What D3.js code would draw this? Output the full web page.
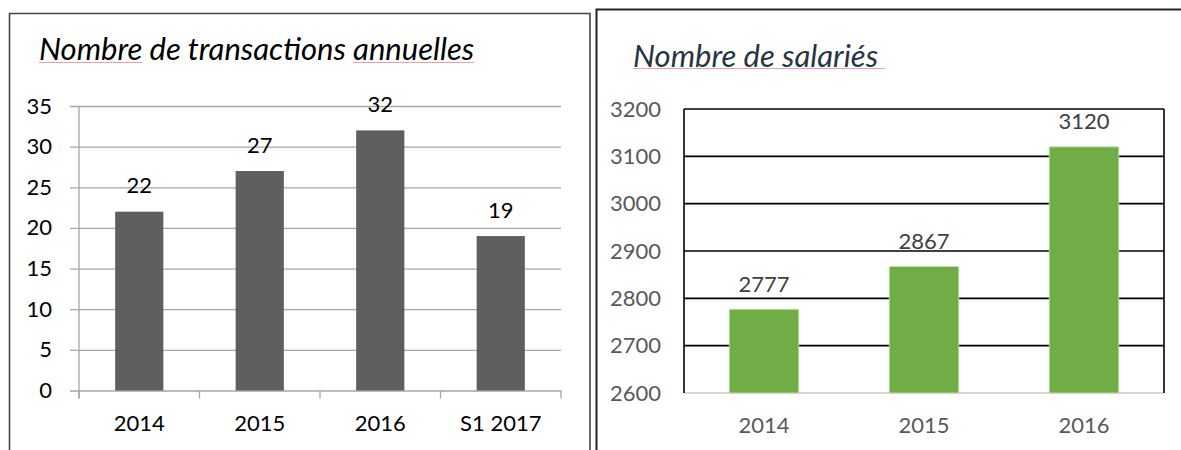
<!DOCTYPE html>
<html>
<head>
<meta charset="utf-8">
<script src="https://cdn.jsdelivr.net/npm/d3@7"></script>
<style>
  body { margin: 0; background: #fff; }
  svg { display: block; font-family: Lato, "Open Sans", sans-serif; }
</style>
</head>
<body>
<svg width="1181" height="450"></svg>
<script>
// transactions chart
const transCats = ['2014', '2015', '2016', 'S1 2017'];
const transValues = [22, 27, 32, 19];
const transTicks = [0, 5, 10, 15, 20, 25, 30, 35];
// salaries chart
const staffCats = ['2014', '2015', '2016'];
const staffValues = [2777, 2867, 3120];
const staffTicks = [2600, 2700, 2800, 2900, 3000, 3100, 3200];

const svg = d3.select('svg');
svg.append('rect').attr('width', 1181).attr('height', 450).attr('fill', '#fff');

// panel frames (they run off the bottom / right of the picture)
svg.append('path')
  .attr('d', 'M9.5,460 V13.5 H590 V460')
  .attr('fill', 'none').attr('stroke', '#444').attr('stroke-width', 1.6);
svg.append('path')
  .attr('d', 'M596.5,460 V9.5 H1190')
  .attr('fill', 'none').attr('stroke', '#222').attr('stroke-width', 2);

// spell-check style underline under given words of a title
const underline = (textSel, words, y, extra) => {
  const node = textSel.node();
  const str = node.textContent;
  words.forEach(w => {
    const i = str.indexOf(w);
    const x0 = node.getStartPositionOfChar(i).x;
    const x1 = node.getEndPositionOfChar(i + w.length - 1).x + (extra || 0);
    svg.append('line')
      .attr('x1', x0).attr('x2', x1)
      .attr('y1', y).attr('y2', y)
      .attr('stroke', '#f2a0a0').attr('stroke-width', 1);
  });
};

// ---------- left chart ----------
{
  const left = 79, right = 561, top = 106, bottom = 390.5;
  const x = d3.scaleBand().domain(transCats).range([left, right]);
  const y = d3.scaleLinear().domain([0, 35]).range([bottom, top]);
  const g = svg.append('g');

  const title = g.append('text')
    .attr('x', 39).attr('y', 60)
    .attr('font-size', 31).attr('font-style', 'italic')
    .attr('fill', '#000')
    .text('Nombre de transactions annuelles');
  underline(title, ['Nombre', 'annuelles'], 62.5);

  const yAxis = d3.axisLeft(y)
    .tickValues(transTicks)
    .tickSize(-(right - 70))
    .tickPadding(18);
  const yAxisG = g.append('g')
    .attr('transform', 'translate(70,0)')
    .call(yAxis);
  yAxisG.select('.domain').remove();
  yAxisG.selectAll('line').attr('stroke', '#a6a6a6').attr('stroke-width', 1.3);
  yAxisG.selectAll('text')
    .attr('font-size', 22).attr('font-family', 'Lato').attr('fill', '#000');

  // vertical axis line
  g.append('line')
    .attr('x1', left).attr('x2', left)
    .attr('y1', top).attr('y2', bottom + 8)
    .attr('stroke', '#a6a6a6').attr('stroke-width', 1.3);

  // category boundary ticks
  g.selectAll('.xtick').data(transCats.concat(['end']))
    .enter().append('line')
    .attr('class', 'xtick')
    .attr('x1', (d, i) => left + i * x.step())
    .attr('x2', (d, i) => left + i * x.step())
    .attr('y1', bottom).attr('y2', bottom + 8)
    .attr('stroke', '#a6a6a6').attr('stroke-width', 1.3);

  const xAxis = d3.axisBottom(x).tickSize(0).tickPadding(25);
  const xAxisG = g.append('g')
    .attr('transform', `translate(0,${bottom})`)
    .call(xAxis);
  xAxisG.select('.domain').remove();
  xAxisG.selectAll('text')
    .attr('font-size', 22).attr('font-family', 'Lato').attr('fill', '#000');

  const bw = x.bandwidth() * 0.4;
  g.selectAll('.bar').data(transValues)
    .enter().append('rect')
    .attr('class', 'bar')
    .attr('x', (d, i) => x(transCats[i]) + (x.bandwidth() - bw) / 2)
    .attr('width', bw)
    .attr('y', d => y(d))
    .attr('height', d => bottom - y(d))
    .attr('fill', '#5f5f5f');

  g.selectAll('.lbl').data(transValues)
    .enter().append('text')
    .attr('class', 'lbl')
    .attr('x', (d, i) => x(transCats[i]) + x.bandwidth() / 2)
    .attr('y', d => y(d) - 18.5)
    .attr('text-anchor', 'middle')
    .attr('font-size', 22).attr('fill', '#000')
    .text(d => d);
}

// ---------- right chart ----------
{
  const left = 684, right = 1164, top = 109, bottom = 393;
  const x = d3.scaleBand().domain(staffCats).range([left, right]);
  const y = d3.scaleLinear().domain([2600, 3200]).range([bottom, top]);
  const g = svg.append('g');

  const title = g.append('text')
    .attr('x', 633).attr('y', 67)
    .attr('font-size', 31).attr('font-style', 'italic')
    .attr('fill', '#263444')
    .text('Nombre de salariés');
  underline(title, ['Nombre de salariés'], 68.5, 7);

  const yAxis = d3.axisLeft(y)
    .tickValues(staffTicks)
    .tickFormat(d3.format('d'))
    .tickSize(0)
    .tickPadding(23);
  const yAxisG = g.append('g')
    .attr('transform', `translate(${left},0)`)
    .call(yAxis);
  yAxisG.select('.domain').remove();
  yAxisG.selectAll('text')
    .attr('font-size', 22).attr('font-family', 'Lato').attr('fill', '#595959');

  // gridlines (black) above the bottom axis
  g.selectAll('.grid').data(staffTicks.slice(1))
    .enter().append('line')
    .attr('class', 'grid')
    .attr('x1', left).attr('x2', right)
    .attr('y1', d => y(d)).attr('y2', d => y(d))
    .attr('stroke', '#000').attr('stroke-width', 1.6);
  g.append('line')
    .attr('x1', left).attr('x2', right)
    .attr('y1', bottom).attr('y2', bottom)
    .attr('stroke', '#c8c8c8').attr('stroke-width', 1.6);
  [left, right].forEach(xx => {
    g.append('line')
      .attr('x1', xx).attr('x2', xx)
      .attr('y1', top).attr('y2', bottom)
      .attr('stroke', '#000').attr('stroke-width', 1.6);
  });

  const xAxis = d3.axisBottom(x).tickSize(0).tickPadding(24);
  const xAxisG = g.append('g')
    .attr('transform', `translate(0,${bottom})`)
    .call(xAxis);
  xAxisG.select('.domain').remove();
  xAxisG.selectAll('text')
    .attr('font-size', 22).attr('font-family', 'Lato').attr('fill', '#595959');

  const bw = x.bandwidth() * 0.435;
  g.selectAll('.bar').data(staffValues)
    .enter().append('rect')
    .attr('class', 'bar')
    .attr('x', (d, i) => x(staffCats[i]) + (x.bandwidth() - bw) / 2)
    .attr('width', bw)
    .attr('y', d => y(d))
    .attr('height', d => bottom - y(d))
    .attr('fill', '#70ad47')
    .attr('stroke', '#c5e0b4').attr('stroke-width', 0.8);

  g.selectAll('.lbl').data(staffValues)
    .enter().append('text')
    .attr('class', 'lbl')
    .attr('x', (d, i) => x(staffCats[i]) + x.bandwidth() / 2)
    .attr('y', d => y(d) - 17.5)
    .attr('text-anchor', 'middle')
    .attr('font-size', 22).attr('fill', '#404040')
    .text(d => d);
}
</script>
</body>
</html>
